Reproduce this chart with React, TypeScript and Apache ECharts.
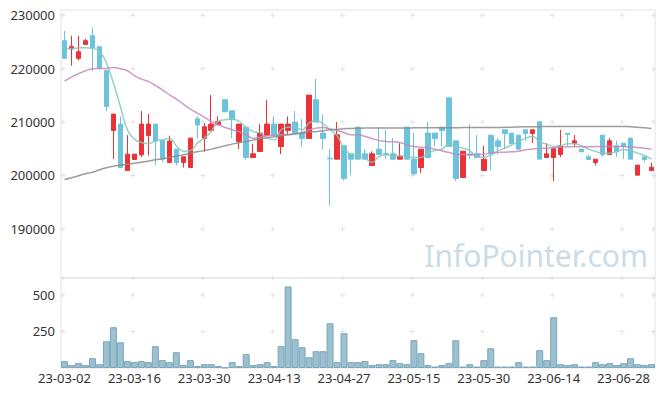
import React, { useEffect, useRef } from "react";
import * as echarts from "echarts";

const dates = [
  "23-03-02","23-03-03","23-03-06","23-03-07","23-03-08","23-03-09","23-03-10","23-03-13","23-03-14","23-03-15",
  "23-03-16","23-03-17","23-03-20","23-03-21","23-03-22","23-03-23","23-03-24","23-03-27","23-03-28","23-03-29",
  "23-03-30","23-03-31","23-04-03","23-04-04","23-04-05","23-04-06","23-04-07","23-04-10","23-04-11","23-04-12",
  "23-04-13","23-04-14","23-04-17","23-04-18","23-04-19","23-04-20","23-04-21","23-04-24","23-04-25","23-04-26",
  "23-04-27","23-04-28","23-05-02","23-05-03","23-05-04","23-05-08","23-05-09","23-05-10","23-05-11","23-05-12",
  "23-05-15","23-05-16","23-05-17","23-05-18","23-05-19","23-05-22","23-05-23","23-05-24","23-05-25","23-05-26",
  "23-05-30","23-05-31","23-06-01","23-06-02","23-06-05","23-06-07","23-06-08","23-06-09","23-06-12","23-06-13",
  "23-06-14","23-06-15","23-06-16","23-06-19","23-06-20","23-06-21","23-06-22","23-06-23","23-06-26","23-06-27",
  "23-06-28","23-06-29","23-06-30","23-07-03","23-07-04",
];

const opens = [
  225250,223690,221940,224560,226190,224125,219690,208440,209625,200940,
  203000,203875,207500,209625,206560,202440,204940,202440,201500,210625,
  206940,208440,209500,214190,212125,206375,209060,203375,204500,207500,
  209625,205440,208440,210000,207940,206940,214190,207940,203250,203060,
  205560,204060,209060,204060,201875,204940,204100,204060,203060,209060,
  203060,201500,207940,207940,209060,214560,206500,199625,204000,204060,
  200940,207560,206500,208560,207940,207560,208560,207875,210060,203375,
  203375,203940,207875,206000,204940,203500,202440,207560,203940,205560,
  206060,207000,200060,203500,200940,
];
const closes = [
  221940,224190,223190,225250,223940,220125,212940,211500,201500,204000,
  204000,209625,209625,206440,203060,206440,202440,203500,207000,209440,
  209125,209625,210060,211940,210440,209625,203375,204060,207940,209625,
  207500,209625,209625,207940,206940,215060,210000,206940,203125,207625,
  199440,203060,203060,203060,204060,203940,204000,203060,203500,203060,
  200310,204940,203375,206940,208440,205440,199440,204560,203810,203375,
  203060,204060,205440,207875,206000,204940,207875,208560,203060,204060,
  205060,205560,207700,206500,204440,203000,203060,203940,206500,204440,
  205440,203060,201940,203000,201560,
];
const lows = [
  221900,220560,221560,224560,219500,219810,212060,203060,201500,200940,
  203000,203440,203750,201940,202440,202440,201875,201500,201500,206940,
  204440,208440,209500,211940,207000,204940,202940,203375,204500,207500,
  207500,204000,207625,207940,205440,206940,210000,204940,194440,203060,
  199060,200060,203060,203060,201875,203940,203060,203060,203060,203060,
  200060,200440,203375,205440,205440,205440,198940,199625,203060,203375,
  200940,200940,203940,204940,206000,204940,206500,206060,203060,203375,
  198940,203440,205440,205440,204440,203000,201875,203500,203940,203500,
  203060,203060,200060,202500,200940,
];
const highs = [
  227100,226190,226190,225625,227750,224125,219690,211500,211060,207560,
  204000,212060,211560,209625,206560,207440,204940,203500,207000,211060,
  209810,215060,211060,214190,212125,209625,209060,205940,209625,214125,
  211060,209625,211060,212125,210560,215060,218060,211500,204940,210000,
  205560,204060,209060,204940,204500,209060,208560,207000,206060,209060,
  207940,204940,210000,207940,209060,214560,206500,204560,209625,207560,
  205560,207560,207000,208560,207940,207560,208560,208560,210060,206060,
  205060,208560,207875,207560,204940,203940,203060,207560,207000,206500,
  206060,207000,201940,203500,202440,
];

const volumes = [
  47,20,33,20,67,26,183,279,176,47,
  40,47,40,149,54,40,108,20,54,13,
  26,26,13,3,40,13,95,20,26,40,
  13,149,558,197,142,74,115,115,306,40,
  238,40,40,47,20,26,26,54,33,26,
  190,101,20,10,20,33,190,10,26,10,
  54,135,10,10,10,40,10,10,122,54,
  347,26,20,26,10,10,40,26,33,20,
  33,67,26,20,26,
];

const ma5 = [
  223750,223810,223875,223940,223810,223250,221060,217310,212940,208560,
  206810,206190,205940,206500,206690,206940,205560,204560,204690,206060,
  207000,208250,210125,210440,210560,210125,209060,208250,207940,207000,
  206690,208560,209060,209000,208560,209810,210250,209690,208560,207440,
  205125,203875,203560,203250,202440,203560,203875,203750,203750,203560,
  203375,203375,204190,204690,204940,205875,205440,205125,204625,203560,
  203440,203875,204625,205125,205750,206375,207000,207310,206310,205875,
  205440,205560,205940,205940,205560,204940,204500,204190,204190,204500,
  204810,204625,204190,203750,203060,
];
const ma20 = [
  217690,218440,219060,219625,220000,220060,220060,220250,220000,219625,
  218690,218060,217625,216875,216060,215125,214310,213375,212440,211690,
  210940,210125,209500,209000,208560,208190,207625,207000,207190,207440,
  207560,207625,207690,207810,208060,208560,208875,209000,208690,208440,
  208060,207625,207625,207310,206940,206560,206375,206310,206190,205750,
  205440,205310,205190,204940,204625,204310,204000,203940,203940,203940,
  204000,204190,204310,204375,204440,204560,204810,204940,205060,205125,
  205190,205310,205375,205375,205375,205375,205440,205440,205440,205440,
  205440,205375,205250,205125,204940,
];
const ma60 = [
  199250,199560,199940,200310,200625,201060,201440,201750,201940,202125,
  202310,202500,202690,202940,203125,203375,203625,203875,204190,204440,
  204690,204940,205250,205560,205875,206125,206375,206625,206875,207060,
  207250,207440,207625,207750,207940,208125,208250,208375,208560,208625,
  208750,208810,208850,208875,208875,208900,208900,208900,208900,208900,
  208940,208940,208940,208940,208940,208940,208940,208970,209000,209000,
  209000,209000,209000,209030,209060,209100,209125,209125,209150,209190,
  209190,209190,209190,209190,209190,209190,209190,209190,209190,209190,
  209190,209125,209060,208940,208810,
];

const priceTicks = [190000, 200000, 210000, 220000, 230000];
const volumeTicks = [250, 500];
const priceMin = 180800;
const priceMax = 231000;
const volumeMax = 616;
const labelEvery = 10;

const FONT = "'Noto Sans', 'DejaVu Sans', sans-serif";
const upColor = "#ec3237";
const downColor = "#6cc3dc";
const crossColor = "#dcdcdc";
const crossSymbol = "path://M2,0h1v2h2v1h-2v2h-1v-2h-2v-1h2z";

export default function App() {
  const ref = useRef<HTMLDivElement>(null);

  useEffect(() => {
    document.body.style.margin = "0";
    if (!ref.current) return;
    const chart = echarts.init(ref.current, undefined, { renderer: "svg" });

    const crossCols: number[] = [];
    for (let i = 0; i < dates.length; i += labelEvery) crossCols.push(i);

    const priceCrosses: any[] = [];
    const volCrosses: any[] = [];
    crossCols.forEach((c) => {
      priceTicks.forEach((t) => priceCrosses.push({ value: [dates[c], t] }));
      [...volumeTicks, volumeMax].forEach((t) => volCrosses.push({ value: [dates[c], t] }));
    });
    const lastIdx = dates.length - 1;
    priceTicks.forEach((t) =>
      priceCrosses.push({ value: [dates[lastIdx], t], symbolOffset: [2, 0] })
    );
    [...volumeTicks, volumeMax].forEach((t) =>
      volCrosses.push({ value: [dates[lastIdx], t], symbolOffset: [2, 0] })
    );

    const candleData = dates.map((_, i) => [opens[i], closes[i], lows[i], highs[i]]);

    const axisLabelStyle = { color: "#333", fontSize: 13, fontFamily: FONT };

    chart.setOption({
      animation: false,
      textStyle: { fontFamily: FONT },
      grid: [
        { left: 61, top: 10, width: 594, height: 268, show: true, borderColor: "#e4e4e4", borderWidth: 1, backgroundColor: "transparent" },
        { left: 61, top: 278, width: 594, height: 90, show: true, borderColor: "#e4e4e4", borderWidth: 1, backgroundColor: "transparent" },
      ],
      xAxis: [
        {
          type: "category", gridIndex: 0, data: dates, boundaryGap: true,
          axisLine: { show: false }, axisTick: { show: false }, axisLabel: { show: false }, splitLine: { show: false },
        },
        {
          type: "category", gridIndex: 1, data: dates, boundaryGap: true,
          axisLine: { show: false }, axisTick: { show: false }, splitLine: { show: false },
          axisLabel: { ...axisLabelStyle, interval: labelEvery - 1, margin: 3 },
        },
      ],
      yAxis: [
        {
          type: "value", gridIndex: 0, min: priceMin, max: priceMax, scale: true,
          axisLine: { show: false }, axisTick: { show: false }, splitLine: { show: false },
          axisLabel: {
            ...axisLabelStyle, margin: 6,
            formatter: (v: number) => (priceTicks.includes(v) ? String(v) : ""),
          },
        },
        {
          type: "value", gridIndex: 1, min: 0, max: volumeMax, interval: 250,
          axisLine: { show: false }, axisTick: { show: false }, splitLine: { show: false },
          axisLabel: {
            ...axisLabelStyle, margin: 6,
            formatter: (v: number) => (volumeTicks.includes(v) ? String(v) : ""),
          },
        },
      ],
      graphic: [
        {
          type: "text", x: 648, y: 255, z: 0, silent: true,
          style: {
            text: "InfoPointer.com", fill: "#c9dce7", fontSize: 30, fontFamily: FONT,
            align: "right", verticalAlign: "middle",
          },
        },
      ],
      series: [
        {
          type: "scatter", xAxisIndex: 0, yAxisIndex: 0, data: priceCrosses,
          symbol: crossSymbol, symbolSize: 5, symbolOffset: [-1.5, 0], silent: true, z: 1,
          itemStyle: { color: crossColor },
        },
        {
          type: "scatter", xAxisIndex: 1, yAxisIndex: 1, data: volCrosses,
          symbol: crossSymbol, symbolSize: 5, symbolOffset: [-1.5, 0], silent: true, z: 1,
          itemStyle: { color: crossColor },
        },
        {
          type: "candlestick", xAxisIndex: 0, yAxisIndex: 0, data: candleData, barWidth: 5, z: 2,
          itemStyle: { color: upColor, color0: downColor, borderColor: upColor, borderColor0: downColor, borderWidth: 1 },
        },
        {
          type: "line", xAxisIndex: 0, yAxisIndex: 0, data: ma5, smooth: true, symbol: "none", z: 3,
          lineStyle: { color: "#83c9ba", width: 1.5, opacity: 0.85 },
        },
        {
          type: "line", xAxisIndex: 0, yAxisIndex: 0, data: ma20, smooth: true, symbol: "none", z: 3,
          lineStyle: { color: "#c688c0", width: 1.5, opacity: 0.85 },
        },
        {
          type: "line", xAxisIndex: 0, yAxisIndex: 0, data: ma60, smooth: true, symbol: "none", z: 3,
          lineStyle: { color: "#8c8c8c", width: 1.5, opacity: 0.85 },
        },
        {
          type: "bar", xAxisIndex: 1, yAxisIndex: 1, data: volumes, barCategoryGap: "0%", z: 2,
          itemStyle: { color: "#9bc0d0", borderColor: "#7aa6ba", borderWidth: 1 },
        },
      ],
    });

    return () => chart.dispose();
  }, []);

  return <div ref={ref} style={{ width: 665, height: 396 }} />;
}
